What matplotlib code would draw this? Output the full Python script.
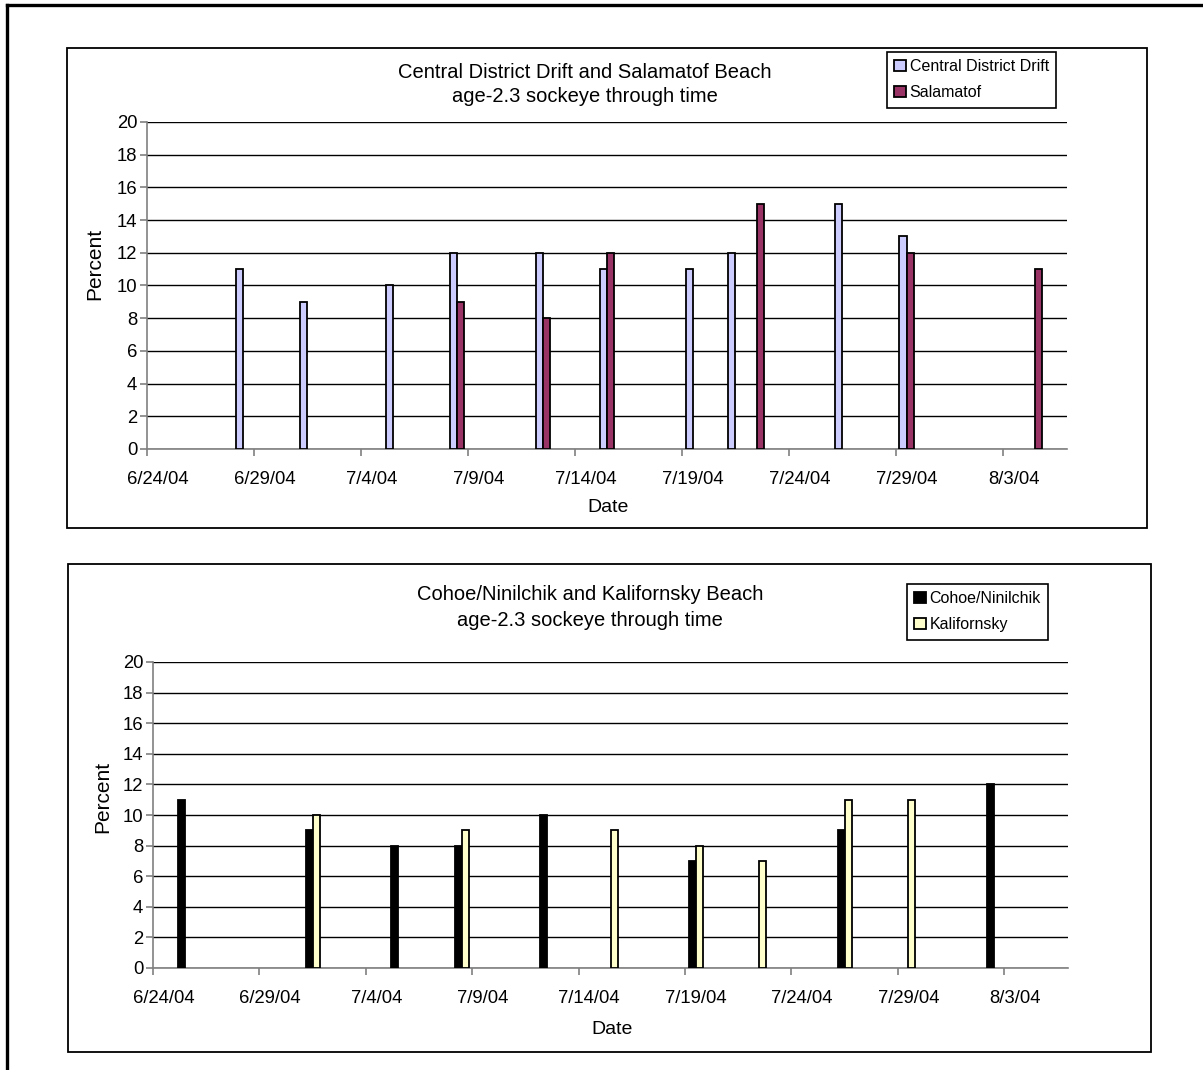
import pandas as pd
import matplotlib
matplotlib.use('Agg')
import matplotlib.pyplot as plt
import matplotlib.dates as mdates
from matplotlib.patches import Rectangle
from matplotlib.lines import Line2D

plt.rcParams['font.family'] = ['Liberation Sans', 'DejaVu Sans']

# data
cdd_dates = ['2004-06-28', '2004-07-01', '2004-07-05', '2004-07-08', '2004-07-12',
             '2004-07-15', '2004-07-19', '2004-07-21', '2004-07-26', '2004-07-29']
cdd_vals = [11, 9, 10, 12, 12, 11, 11, 12, 15, 13]
sal_dates = ['2004-07-08', '2004-07-12', '2004-07-15', '2004-07-22', '2004-07-29', '2004-08-04']
sal_vals = [9, 8, 12, 15, 12, 11]

coh_dates = ['2004-06-25', '2004-07-01', '2004-07-05', '2004-07-08', '2004-07-12',
             '2004-07-19', '2004-07-26', '2004-08-02']
coh_vals = [11, 9, 8, 8, 10, 7, 9, 12]
kal_dates = ['2004-07-01', '2004-07-08', '2004-07-15', '2004-07-19', '2004-07-22',
             '2004-07-26', '2004-07-29']
kal_vals = [10, 9, 9, 8, 7, 11, 11]

tick_dates = pd.date_range('2004-06-24', '2004-08-03', freq='5D')
tick_labels = [f'{d.month}/{d.day}/{d:%y}' for d in tick_dates]
x_start, x_end = '2004-06-24', '2004-08-06'

W, H = 1203, 1070
fig = plt.figure(figsize=(W / 100, H / 100), dpi=100)


def fx(px):
    return px / W


def fy(py):
    return 1 - py / H


def panel(rect, series, title_xy, legend_anchor, ylab_xy, xlab_xy, title):
    left, top, right, bottom = rect
    ax = fig.add_axes([fx(left), fy(bottom), fx(right - left), (bottom - top) / H])
    bw = 0.33
    for (dates, vals, color, label), off in zip(series, (-bw / 2, bw / 2)):
        x = mdates.date2num(pd.to_datetime(dates)) + 0.5 + off
        ax.bar(x, vals, width=bw, color=color, edgecolor='black',
               linewidth=1.3, label=label, zorder=3)
    ax.set_xlim(mdates.date2num(pd.Timestamp(x_start)),
                mdates.date2num(pd.Timestamp(x_end)))
    ax.set_ylim(0, 20)
    ax.set_yticks(range(0, 21, 2))
    # tick marks on date boundaries, labels centred on the day slot
    tnum = mdates.date2num(tick_dates)
    ax.set_xticks(tnum, labels=[''] * len(tnum))
    ax.set_xticks(tnum + 0.5, labels=tick_labels, minor=True)
    ax.tick_params(axis='x', which='minor', length=0, pad=16, labelsize=13.3)
    ax.yaxis.grid(True, color='black', linewidth=1, zorder=0)
    ax.set_axisbelow(True)
    for s in ('top', 'right'):
        ax.spines[s].set_visible(False)
    for s in ('left', 'bottom'):
        ax.spines[s].set_color('#808080')
        ax.spines[s].set_linewidth(1.2)
    ax.tick_params(axis='both', which='major', colors='#808080', length=5, width=1.2,
                   labelcolor='black', labelsize=13.3)
    ax.tick_params(axis='y', pad=2)

    fig.text(fx(title_xy[0]), fy(title_xy[1]), title, ha='center', va='center',
             fontsize=14.5, linespacing=1.4)
    fig.text(fx(ylab_xy[0]), fy(ylab_xy[1]), 'Percent', rotation=90,
             ha='center', va='center', fontsize=15)
    fig.text(fx(xlab_xy[0]), fy(xlab_xy[1]), 'Date', ha='center', va='center',
             fontsize=14)
    leg = ax.legend(loc='upper right', bbox_to_anchor=(fx(legend_anchor[0]), fy(legend_anchor[1])),
                    bbox_transform=fig.transFigure, fontsize=11.5, frameon=True,
                    fancybox=False, edgecolor='black', framealpha=1,
                    handlelength=0.7, handleheight=0.7, handletextpad=0.25,
                    labelspacing=0.7, borderpad=0.45, borderaxespad=0)
    leg.get_frame().set_linewidth(1.2)
    return ax


panel((147, 122, 1067, 449),
      [(cdd_dates, cdd_vals, '#CCCCFF', 'Central District Drift'),
       (sal_dates, sal_vals, '#993366', 'Salamatof')],
      (585, 84.5), (1056, 52), (95, 264), (608, 508),
      'Central District Drift and Salamatof Beach\nage-2.3 sockeye through time')

panel((153, 662, 1068, 968),
      [(coh_dates, coh_vals, 'black', 'Cohoe/Ninilchik'),
       (kal_dates, kal_vals, '#FFFFCC', 'Kalifornsky')],
      (590, 607.5), (1048, 584), (103, 797), (612, 1030),
      'Cohoe/Ninilchik and Kalifornsky Beach\nage-2.3 sockeye through time')

# panel boxes
for (x0, y0, x1, y1) in [(67, 48, 1147, 528), (68, 564, 1151, 1052)]:
    fig.patches.append(Rectangle((fx(x0), fy(y1)), fx(x1 - x0), (y1 - y0) / H,
                                 transform=fig.transFigure, fill=False,
                                 edgecolor='black', linewidth=1.3))

# outer frame
fig.lines.append(Line2D([fx(7), fx(7)], [fy(5), 0], transform=fig.transFigure,
                        color='black', linewidth=2.4))
fig.lines.append(Line2D([fx(7), 1], [fy(5), fy(5)], transform=fig.transFigure,
                        color='black', linewidth=2.4))

fig.savefig('out.png', dpi=100)
